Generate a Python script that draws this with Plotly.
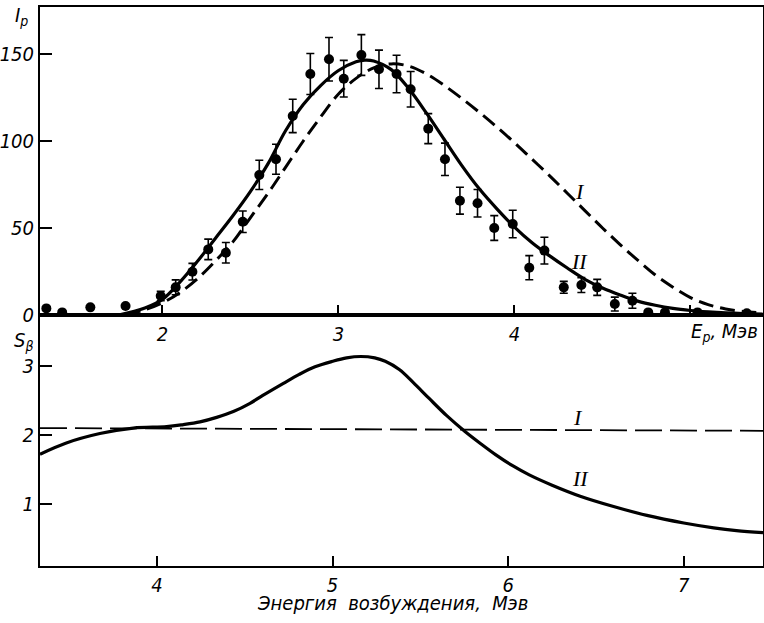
import plotly.graph_objects as go

# ---- measured data (top panel) ----
ep_points = [1.34, 1.43, 1.59, 1.79, 1.99, 2.075, 2.17, 2.26, 2.36, 2.456, 2.55, 2.645, 2.74,
             2.84, 2.946, 3.03, 3.13, 3.23, 3.33, 3.41, 3.51, 3.605, 3.69, 3.79, 3.885, 3.99,
             4.084, 4.17, 4.28, 4.38, 4.47, 4.57, 4.67, 4.76, 4.855, 5.04, 5.32]
ip_points = [3.8, 1.5, 4.4, 5.2, 10.9, 15.9, 24.9, 37.7, 35.8, 53.6, 80.5, 89.5, 114.4,
             138.5, 147.0, 135.8, 149.4, 141.2, 138.5, 129.7, 107.1, 89.5, 65.7, 64.2, 50.0, 52.3,
             27.2, 37.0, 15.9, 17.2, 15.9, 6.3, 8.2, 1.5, 1.5, 1.5, 1.0]
ip_errors = [0, 0, 0, 0, 2.7, 4.3, 4.8, 5.9, 5.9, 6.2, 8.4, 8.6, 9.6,
             11.8, 12.5, 10.5, 11.7, 11.0, 10.8, 10.2, 8.6, 9.3, 7.7, 7.9, 7.1, 7.9,
             6.9, 7.7, 3.4, 4.3, 4.6, 4.0, 4.3, 0, 0, 0, 0]

# curve II (solid) in top panel
ep_curve2 = [1.75, 1.9, 2.0, 2.1, 2.2, 2.3, 2.4, 2.5, 2.6, 2.7, 2.8, 2.9, 3.0, 3.1, 3.15, 3.2,
             3.3, 3.4, 3.5, 3.6, 3.7, 3.8, 3.9, 4.0, 4.1, 4.2, 4.3, 4.4, 4.5, 4.6, 4.7, 4.8,
             4.9, 5.0, 5.1, 5.2, 5.3, 5.41]
ip_curve2 = [0, 4, 9, 19, 31, 44, 57, 71, 87, 106, 121, 132, 140.5, 145.5, 146.5, 146,
             141, 130, 116, 101, 86, 72.5, 61, 50.5, 41.5, 34, 27, 20.5, 15.5, 11.5, 8, 5.6,
             3.8, 2.6, 1.8, 1.2, 0.8, 0.5]

# curve I (dashed) in top panel
ep_curve1 = [1.79, 1.9, 2.0, 2.1, 2.2, 2.3, 2.4, 2.5, 2.6, 2.7, 2.8, 2.9, 3.0, 3.1, 3.2, 3.3,
             3.4, 3.5, 3.6, 3.7, 3.8, 3.9, 4.0, 4.1, 4.2, 4.3, 4.4, 4.5, 4.6, 4.7, 4.8, 4.9,
             5.0, 5.1, 5.2, 5.3, 5.41]
ip_curve1 = [0, 3, 7, 13, 21, 31, 42, 56, 70, 85, 100, 114, 127, 136, 142, 144.3,
             143, 138.5, 132, 124.5, 116.5, 108, 99, 89.5, 80, 70, 60, 50, 40.5, 31.5, 23, 16,
             10, 6, 3.5, 2, 1.3]

# ---- bottom panel ----
ex_curve2 = [3.334, 3.48, 3.675, 3.865, 4.055, 4.15, 4.245, 4.34, 4.435, 4.53, 4.62, 4.72,
             4.81, 4.9, 5.0, 5.08, 5.16, 5.24, 5.3, 5.38, 5.46, 5.55, 5.65, 5.754, 5.85, 5.93,
             6.02, 6.12, 6.25, 6.41, 6.6, 6.79, 7.0, 7.17, 7.3, 7.451]
s_curve2 = [1.72, 1.88, 2.02, 2.10, 2.12, 2.15, 2.19, 2.255, 2.34, 2.46, 2.60, 2.75,
            2.88, 2.99, 3.07, 3.12, 3.14, 3.12, 3.07, 2.95, 2.76, 2.53, 2.28, 2.05, 1.86, 1.71,
            1.56, 1.42, 1.27, 1.11, 0.96, 0.83, 0.72, 0.65, 0.61, 0.58]
ex_curve1 = [3.334, 7.451]
s_curve1 = [2.10, 2.06]

top_xticks = [2, 3, 4, 5]
top_xticktext = ["2", "3", "4", ""]
top_yticks = [0, 50, 100, 150]
bot_xticks = [4, 5, 6, 7]
bot_yticks = [1, 2, 3]

FONT = "DejaVu Sans Condensed, DejaVu Sans, sans-serif"
SERIF = "Liberation Serif, DejaVu Serif, serif"


def ital(vals):
    return ["<i>%s</i>" % v if v != "" else "" for v in vals]


fig = go.Figure()

fig.add_trace(go.Scatter(x=ep_curve1, y=ip_curve1, mode="lines", line_shape="spline",
                         line=dict(color="black", width=3, dash="15px,7px"),
                         xaxis="x", yaxis="y", showlegend=False))
fig.add_trace(go.Scatter(x=ep_curve2, y=ip_curve2, mode="lines", line_shape="spline",
                         line=dict(color="black", width=3.2),
                         xaxis="x", yaxis="y", showlegend=False))
fig.add_trace(go.Scatter(x=ep_points, y=ip_points, mode="markers",
                         marker=dict(color="black", size=10),
                         error_y=dict(type="data", array=ip_errors, visible=True,
                                      color="black", thickness=1.6, width=4),
                         xaxis="x", yaxis="y", showlegend=False))

fig.add_trace(go.Scatter(x=ex_curve1, y=s_curve1, mode="lines",
                         line=dict(color="black", width=1.8, dash="27px,8px"),
                         xaxis="x2", yaxis="y2", showlegend=False))
fig.add_trace(go.Scatter(x=ex_curve2, y=s_curve2, mode="lines", line_shape="spline",
                         line=dict(color="black", width=3.2),
                         xaxis="x2", yaxis="y2", showlegend=False))

tickfont = dict(family=FONT, size=20, color="black")
axis_common = dict(showline=True, linecolor="black", linewidth=2, mirror=True,
                   showgrid=False, zeroline=False, ticks="inside", tickcolor="black",
                   tickwidth=1.6, tickfont=tickfont, automargin=False)

fig.update_layout(
    width=764, height=623,
    margin=dict(l=40, r=1, t=7, b=57, autoexpand=False),
    paper_bgcolor="white", plot_bgcolor="white",
    xaxis=dict(domain=[0, 1], anchor="y", range=[1.304, 5.412], tickvals=top_xticks,
               ticktext=ital(top_xticktext), ticklen=10, **axis_common),
    yaxis=dict(domain=[0.449, 1], anchor="x", range=[0, 177], tickvals=top_yticks,
               ticktext=ital([str(v) for v in top_yticks]), ticklen=12, **axis_common),
    xaxis2=dict(domain=[0, 1], anchor="y2", range=[3.334, 7.451], tickvals=bot_xticks,
                ticktext=ital([str(v) for v in bot_xticks]), ticklen=10, **axis_common),
    yaxis2=dict(domain=[0, 0.449], anchor="x2", range=[0.095, 3.743], tickvals=bot_yticks,
                ticktext=ital([str(v) for v in bot_yticks]), ticklen=12, **axis_common),
)

ann_font = dict(family=FONT, size=20, color="black")
serif_font = dict(family=SERIF, size=22, color="black")
center = dict(showarrow=False, xanchor="center", yanchor="middle")

fig.add_annotation(x=-0.0249, y=0.984, xref="paper", yref="paper", text="<i>I<sub>p</sub></i>",
                   font=ann_font, **center)
fig.add_annotation(x=-0.0235, y=0.403, xref="paper", yref="paper", text="<i>S<sub>β</sub></i>",
                   font=ann_font, **center)
fig.add_annotation(x=0.9959, y=0.4186, xref="paper", yref="paper", xanchor="right",
                   yanchor="middle", text="<i>E<sub>p</sub>, Мэв</i>", showarrow=False,
                   font=ann_font)
fig.add_annotation(x=0.488, y=-0.067, xref="paper", yref="paper",
                   text="<i>Энергия  возбуждения,  Мэв</i>", font=ann_font, **center)

fig.add_annotation(x=4.372, y=70.7, xref="x", yref="y", text="<i>I</i>", font=serif_font, **center)
fig.add_annotation(x=4.372, y=30.5, xref="x", yref="y", text="<i>II</i>", font=serif_font, **center)
fig.add_annotation(x=6.40, y=2.25, xref="x2", yref="y2", text="<i>I</i>", font=serif_font, **center)
fig.add_annotation(x=6.41, y=1.37, xref="x2", yref="y2", text="<i>II</i>", font=serif_font, **center)

fig.write_html("out.html", config={"displayModeBar": False},
               post_script="document.body.style.margin='0px'; document.body.style.overflow='hidden';")
